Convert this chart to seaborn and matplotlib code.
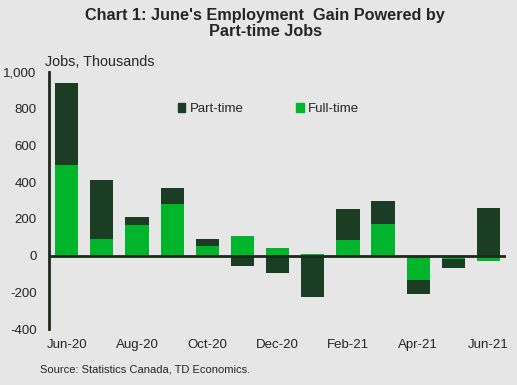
import numpy as np
import pandas as pd
import matplotlib
matplotlib.use('Agg')
import matplotlib.pyplot as plt
import matplotlib.patches as mpatches
import seaborn as sns

months = ['Jun-20', 'Jul-20', 'Aug-20', 'Sep-20', 'Oct-20', 'Nov-20', 'Dec-20',
          'Jan-21', 'Feb-21', 'Mar-21', 'Apr-21', 'May-21', 'Jun-21']
full_time = [496, 93, 169, 283, 54, 109, 44, 11, 87, 174, -131, -16, -31]
part_time = [444, 321, 43, 87, 39, -58, -96, -227, 169, 125, -80, -53, 261]
tick_labels = ['Jun-20', 'Aug-20', 'Oct-20', 'Dec-20', 'Feb-21', 'Apr-21', 'Jun-21']

bg = '#e6e6e6'
dark = '#1a3d24'
bright = '#00b42b'

sns.set_style('white')
plt.rcParams['font.family'] = ['Liberation Sans', 'DejaVu Sans']

df = pd.DataFrame({'month': months, 'full': full_time, 'part': part_time})
# part-time sits on top of full-time when signs agree, otherwise starts at zero
df['part_bottom'] = np.where(df['part'] >= 0, df['full'].clip(lower=0), df['full'].clip(upper=0))

fig = plt.figure(figsize=(5.17, 3.85), dpi=100)
fig.patch.set_facecolor(bg)
ax = fig.add_axes([0.095, 0.145, 0.884, 0.668])
ax.set_facecolor(bg)

sns.barplot(data=df, x='month', y='full', order=months, color=bright, width=0.66,
            saturation=1, ax=ax, linewidth=0)
sns.barplot(data=df, x='month', y='part', order=months, color=dark, width=0.66,
            saturation=1, ax=ax, linewidth=0, bottom=df['part_bottom'].values)

ax.set_ylim(-400, 1000)
ax.set_xlim(-0.5, 12.5)
ax.set_yticks(range(-400, 1001, 200))
ax.set_yticklabels(['-400', '-200', '0', '200', '400', '600', '800', '1,000'], fontsize=9.5)
ax.set_xticks([months.index(m) for m in tick_labels])
ax.set_xticklabels(tick_labels, fontsize=9.5)
ax.tick_params(axis='both', length=0)
ax.tick_params(axis='x', pad=7)
ax.tick_params(axis='y', pad=9)
ax.set_xlabel('')
ax.set_ylabel('')

for s in ['top', 'right', 'bottom']:
    ax.spines[s].set_visible(False)
ax.spines['left'].set_color('#1c2a1c')
ax.spines['left'].set_linewidth(2)
ax.axhline(0, color='#1c2a1c', linewidth=2, zorder=5)

handles = [mpatches.Patch(color=dark, label='Part-time'),
           mpatches.Patch(color=bright, label='Full-time')]
ax.legend(handles=handles, loc='upper left', bbox_to_anchor=(0.255, 0.925), ncol=2,
          frameon=False, fontsize=9.5, handlelength=0.6, handleheight=0.6,
          handletextpad=0.3, columnspacing=4)

fig.text(0.513, 0.98, "Chart 1: June's Employment  Gain Powered by\nPart-time Jobs",
         ha='center', va='top', fontsize=11.7, fontweight='bold', linespacing=1.1)
fig.text(0.087, 0.838, 'Jobs, Thousands', ha='left', va='center', fontsize=10.4)
fig.text(0.077, 0.04, 'Source: Statistics Canada, TD Economics.', ha='left', va='center', fontsize=8)

fig.savefig('out.png', dpi=100, facecolor=bg)
